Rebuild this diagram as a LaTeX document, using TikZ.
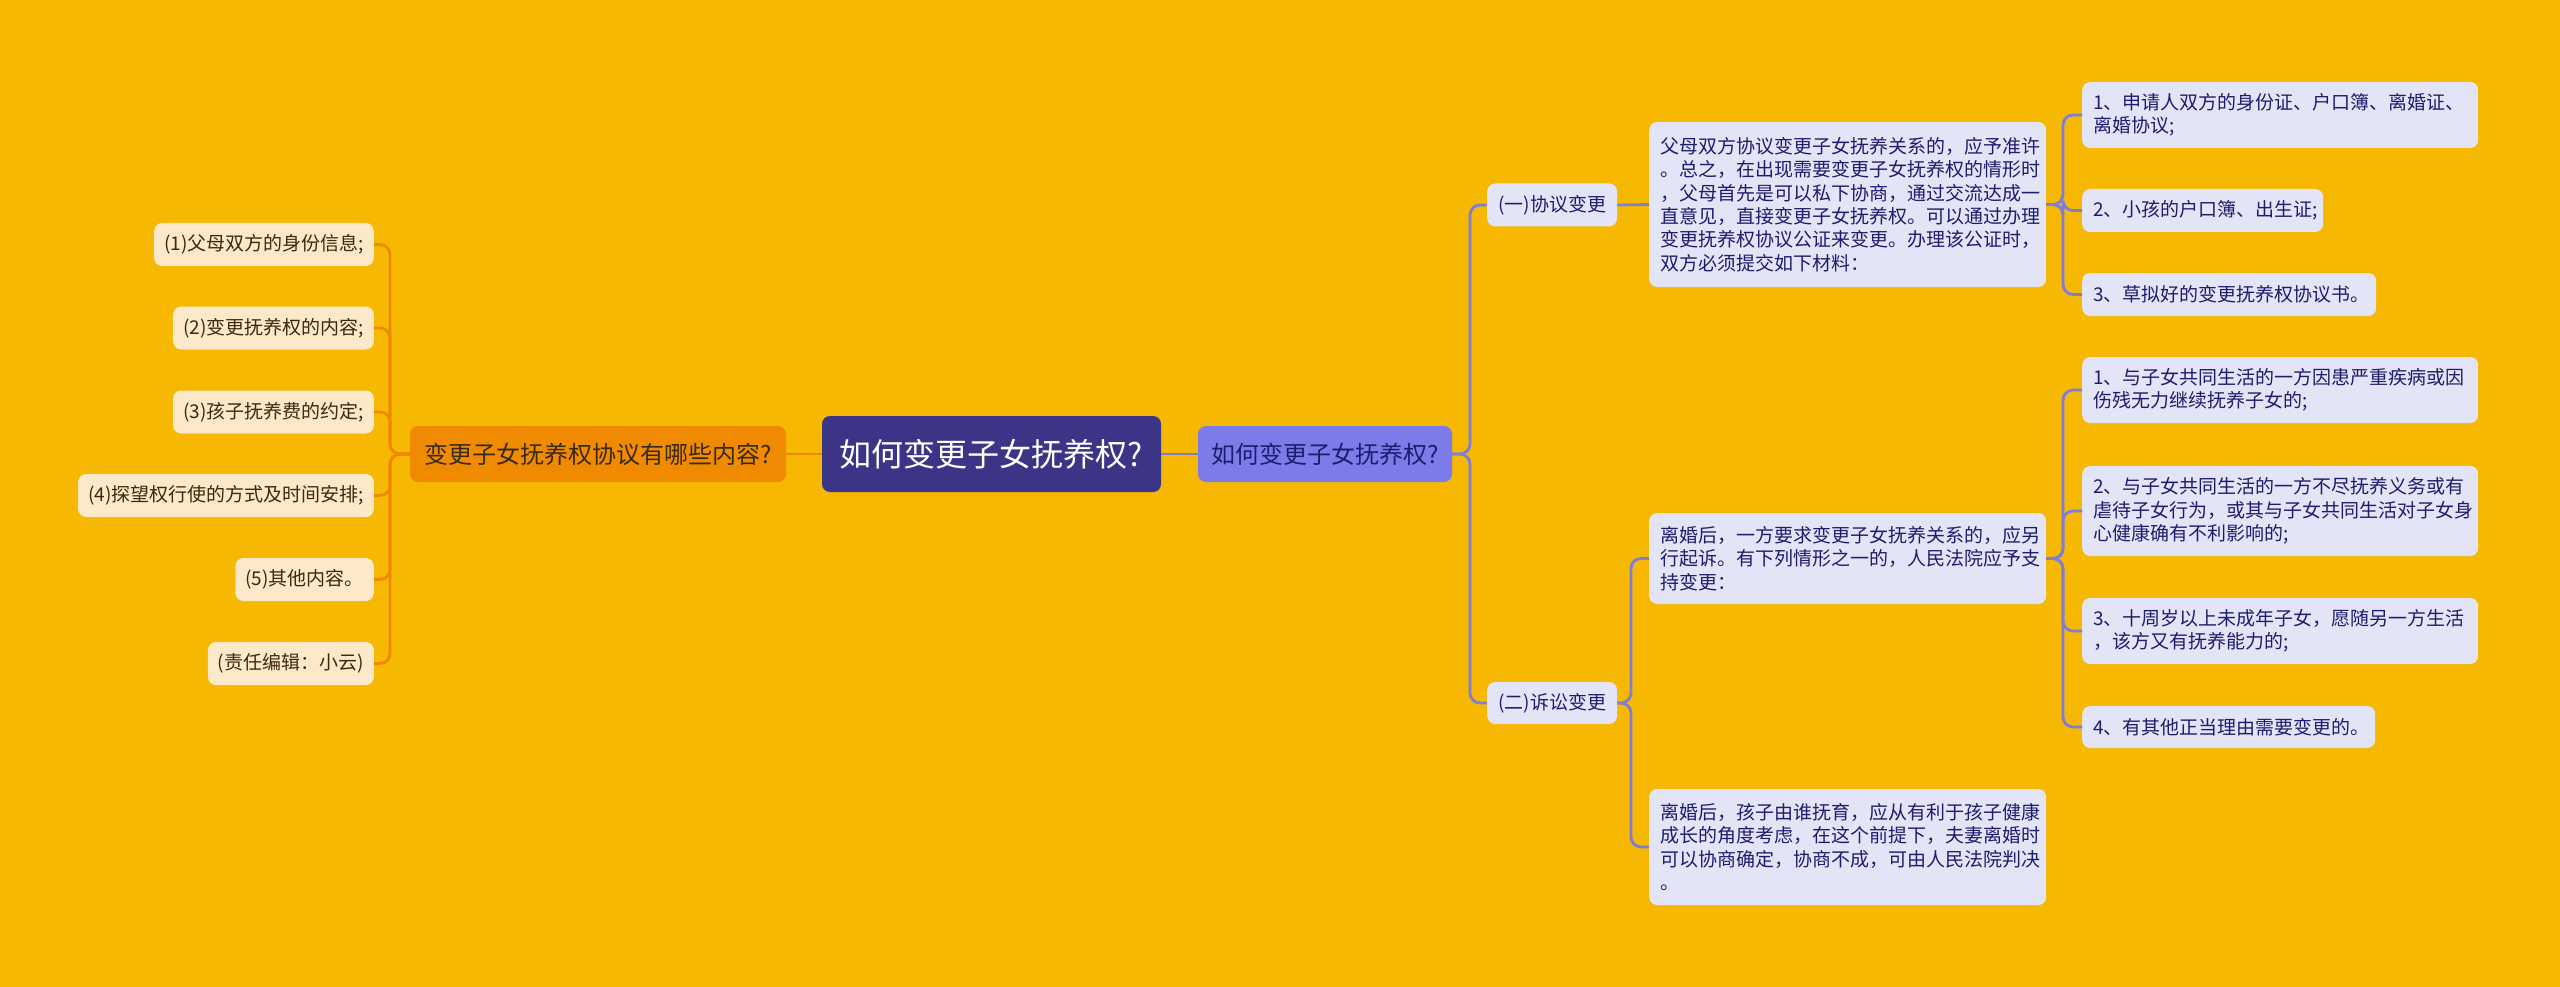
\documentclass[tikz,border=0pt]{standalone}
\usepackage{fontspec}
\setmainfont{Noto Sans CJK SC}
\begin{document}
\begin{tikzpicture}[x=1pt,y=-1pt,
  base/.style={rounded corners=8pt, inner sep=0pt},
  rootbox/.style={base, fill=rootc, text=white, minimum width=339pt, minimum height=76pt, font=\fontsize{32}{38}\selectfont},
  rbranch/.style={base, fill=rbr, text=rtext, minimum width=254pt, minimum height=56pt, font=\fontsize{24}{28}\selectfont},
  lbranch/.style={base, fill=lbr, text=ltext, minimum width=376pt, minimum height=56pt, font=\fontsize{24}{28}\selectfont},
  rleaf/.style={base, fill=rleafc, text=rtext, font=\fontsize{19}{23.4}\selectfont, inner xsep=11pt, align=left, anchor=west},
  lleaf/.style={base, fill=lleafc, text=ltext, font=\fontsize{19}{23}\selectfont, inner xsep=10pt, minimum height=43pt, anchor=east},
  rline/.style={draw=rlinec, line width=2.8pt, rounded corners=10pt},
  lline/.style={draw=llinec, line width=2.8pt, rounded corners=10pt}
]
\definecolor{bg}{HTML}{F6B800}
\definecolor{rootc}{HTML}{3B3487}
\definecolor{rbr}{HTML}{7B7BEA}
\definecolor{rtext}{HTML}{1D1D70}
\definecolor{rleafc}{HTML}{E4E4F7}
\definecolor{rlinec}{HTML}{7E7ED8}
\definecolor{lbr}{HTML}{F08A00}
\definecolor{ltext}{HTML}{3A2A10}
\definecolor{lleafc}{HTML}{FDE9C9}
\definecolor{llinec}{HTML}{EE8A00}
\fill[bg] (0,0) rectangle (2560,987);
\useasboundingbox (0,0) rectangle (2560,987);

% nodes
\node[rootbox] (root) at (991.5,454) {如何变更子女抚养权?};
\node[rbranch] (rb) at (1325,454) {如何变更子女抚养权?};
\node[lbranch] (lb) at (598,454) {变更子女抚养权协议有哪些内容?};

\node[rleaf, minimum width=126pt, minimum height=43pt] (s1) at (1487,205) {(一)协议变更};
\node[rleaf, minimum width=126pt, minimum height=42pt] (s2) at (1487,703) {(二)诉讼变更};

\node[rleaf, text width=375pt, minimum height=165pt] (t1) at (1649,204.5) {父母双方协议变更子女抚养关系的，应予准许\\。总之，在出现需要变更子女抚养权的情形时\\，父母首先是可以私下协商，通过交流达成一\\直意见，直接变更子女抚养权。可以通过办理\\变更抚养权协议公证来变更。办理该公证时，\\双方必须提交如下材料：};
\node[rleaf, text width=375pt, minimum height=91pt] (ta) at (1649,558.5) {离婚后，一方要求变更子女抚养关系的，应另\\行起诉。有下列情形之一的，人民法院应予支\\持变更：};
\node[rleaf, text width=375pt, minimum height=116pt] (tb) at (1649,847) {离婚后，孩子由谁抚育，应从有利于孩子健康\\成长的角度考虑，在这个前提下，夫妻离婚时\\可以协商确定，协商不成，可由人民法院判决\\。};

\node[rleaf, text width=374pt, minimum height=66pt] (g1a) at (2082,115) {1、申请人双方的身份证、户口簿、离婚证、\\离婚协议;};
\node[rleaf, text width=219pt, minimum height=43pt] (g1b) at (2082,210.5) {2、小孩的户口簿、出生证;};
\node[rleaf, text width=272pt, minimum height=43pt] (g1c) at (2082,294.5) {3、草拟好的变更抚养权协议书。};

\node[rleaf, text width=374pt, minimum height=66pt] (g2a) at (2082,390) {1、与子女共同生活的一方因患严重疾病或因\\伤残无力继续抚养子女的;};
\node[rleaf, text width=374pt, minimum height=90pt] (g2b) at (2082,511) {2、与子女共同生活的一方不尽抚养义务或有\\虐待子女行为，或其与子女共同生活对子女身\\心健康确有不利影响的;};
\node[rleaf, text width=374pt, minimum height=66pt] (g2c) at (2082,631) {3、十周岁以上未成年子女，愿随另一方生活\\，该方又有抚养能力的;};
\node[rleaf, text width=271pt, minimum height=42pt] (g2d) at (2082,727) {4、有其他正当理由需要变更的。};

\node[lleaf] (l1) at (374,244.5) {(1)父母双方的身份信息;};
\node[lleaf] (l2) at (374,328) {(2)变更抚养权的内容;};
\node[lleaf] (l3) at (374,412) {(3)孩子抚养费的约定;};
\node[lleaf] (l4) at (374,495.5) {(4)探望权行使的方式及时间安排;};
\node[lleaf] (l5) at (374,579.5) {(5)其他内容。};
\node[lleaf] (l6) at (374,663.5) {(责任编辑：小云)};

% connectors
\draw[draw=rlinec!80!gray, line width=2.8pt] (root.east) -- (rb.west);
\draw[lline] (root.west) -- (lb.east);

\foreach \c in {s1,s2} \draw[rline] (rb.east) -- (1470,454) |- (\c.west);
\draw[rline] (s1.east) -- (t1.west);
\foreach \c in {ta,tb} \draw[rline] (s2.east) -- (1631,703) |- (\c.west);
\foreach \c in {g1a,g1b,g1c} \draw[rline] (t1.east) -- (2063,204.5) |- (\c.west);
\foreach \c in {g2a,g2b,g2c,g2d} \draw[rline] (ta.east) -- (2063,558.5) |- (\c.west);
\foreach \c in {l1,l2,l3,l4,l5,l6} \draw[lline] (lb.west) -- (390,454) |- (\c.east);
\end{tikzpicture}
\end{document}
